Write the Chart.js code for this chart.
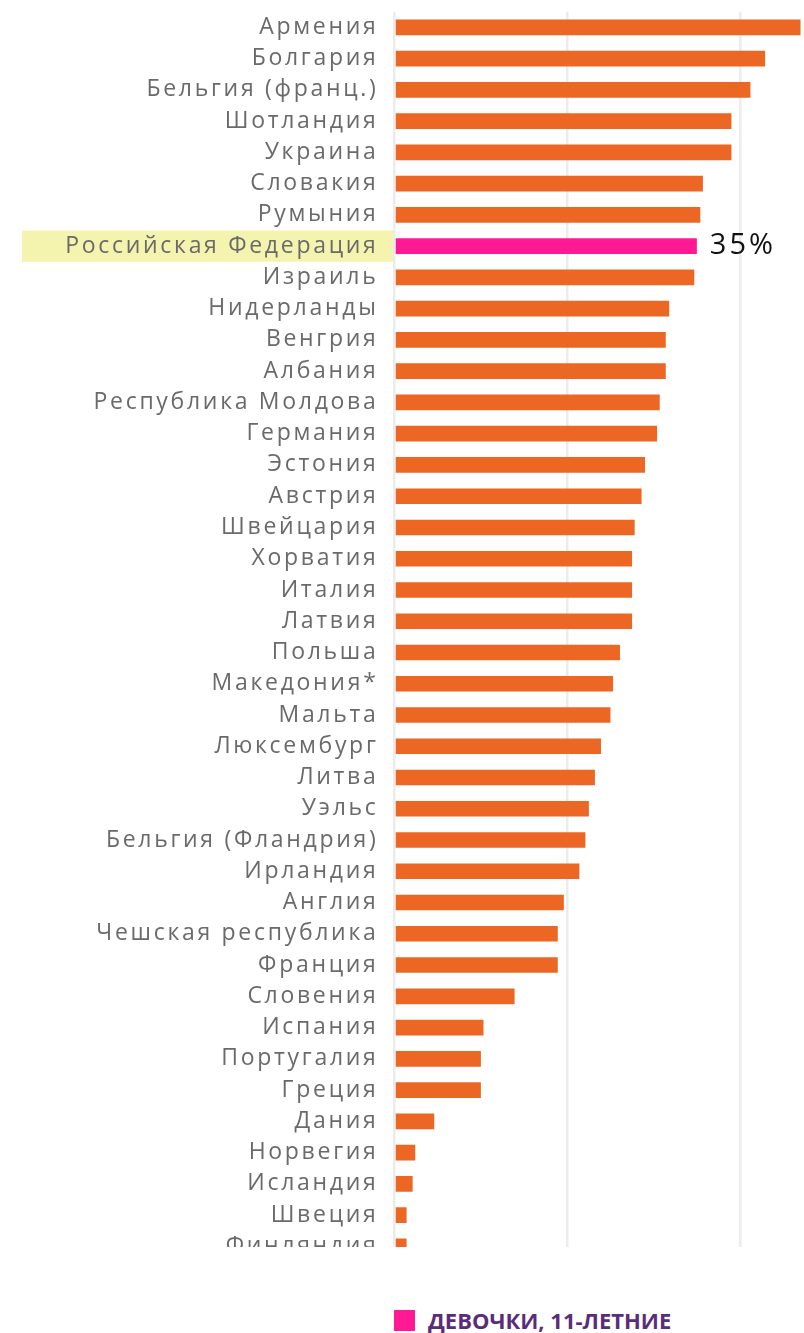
<!DOCTYPE html>
<html lang="ru">
<head>
<meta charset="utf-8">
<script src="https://cdn.jsdelivr.net/npm/chart.js@4.4.1/dist/chart.umd.min.js"></script>
<style>
  body { margin: 0; background: #fff; }
  #wrap { position: relative; width: 804px; height: 1247px; overflow: hidden; }
  #legend { position: absolute; left: 394px; top: 1305px; display: flex; align-items: center;
    font: bold 22px "Open Sans", sans-serif; color: #5a2d7a; }
  #legend span.box { display: inline-block; width: 21px; height: 21px; margin-right: 13px; }
</style>
</head>
<body>
<div id="wrap"><canvas id="myChart" width="804" height="1262"></canvas></div>
<div id="legend"></div>
<script>
const countries = [
  'Армения', 'Болгария', 'Бельгия (франц.)', 'Шотландия', 'Украина', 'Словакия', 'Румыния',
  'Российская Федерация', 'Израиль', 'Нидерланды', 'Венгрия', 'Албания', 'Республика Молдова',
  'Германия', 'Эстония', 'Австрия', 'Швейцария', 'Хорватия', 'Италия', 'Латвия', 'Польша',
  'Македония*', 'Мальта', 'Люксембург', 'Литва', 'Уэльс', 'Бельгия (Фландрия)', 'Ирландия',
  'Англия', 'Чешская республика', 'Франция', 'Словения', 'Испания', 'Португалия', 'Греция',
  'Дания', 'Норвегия', 'Исландия', 'Швеция', 'Финляндия'
];
const girls11 = [
  47, 42.9, 41.2, 39, 39, 35.7, 35.4,
  35, 34.7, 31.8, 31.4, 31.4, 30.7,
  30.4, 29, 28.6, 27.8, 27.5, 27.5, 27.5, 26.1,
  25.3, 25, 23.9, 23.2, 22.5, 22.1, 21.4,
  19.6, 18.9, 18.9, 13.9, 10.3, 10, 10,
  4.6, 2.4, 2.1, 1.4, 1.4
];
const xTicks = [0, 20, 40];
const seriesLabel = 'ДЕВОЧКИ, 11-ЛЕТНИЕ';
const highlight = 'Российская Федерация';

const orange = '#EC6624';
const pink = '#FF1A94';
const hiIndex = countries.indexOf(highlight);

// yellow band behind the highlighted country name, value label after its bar
const highlightPlugin = {
  id: 'highlight',
  beforeLayout(chart) {
    chart.ctx.letterSpacing = '2.7px';
  },
  beforeDraw(chart) {
    const ctx = chart.ctx;
    const y = chart.scales.y;
    const half = (y.getPixelForValue(1) - y.getPixelForValue(0)) / 2;
    const cy = y.getPixelForValue(hiIndex);
    ctx.save();
    ctx.fillStyle = '#F4F4AE';
    ctx.fillRect(22, cy - half, chart.chartArea.left - 22, half * 2);
    ctx.restore();
    ctx.letterSpacing = '2.7px';
  },
  afterDatasetsDraw(chart) {
    const ctx = chart.ctx;
    const bar = chart.getDatasetMeta(0).data[hiIndex];
    ctx.save();
    ctx.letterSpacing = '3px';
    ctx.font = '29px "Open Sans", sans-serif';
    ctx.fillStyle = '#111';
    ctx.textAlign = 'left';
    ctx.textBaseline = 'middle';
    ctx.fillText(Math.round(girls11[hiIndex]) + '%', bar.x + 13, bar.y);
    ctx.restore();
  }
};

const ctx = document.getElementById('myChart').getContext('2d');

new Chart(ctx, {
  type: 'bar',
  data: {
    labels: countries,
    datasets: [{
      label: seriesLabel,
      data: girls11,
      backgroundColor: countries.map(c => c === highlight ? pink : orange),
      barPercentage: 0.5,
      categoryPercentage: 1
    }]
  },
  options: {
    indexAxis: 'y',
    responsive: false,
    animation: false,
    layout: { padding: { top: 11.7, bottom: 0, left: 0, right: 0 } },
    plugins: { legend: { display: false }, tooltip: { enabled: false } },
    scales: {
      x: {
        min: 0,
        max: 47.4,
        afterBuildTicks: scale => { scale.ticks = xTicks.map(v => ({ value: v })); },
        afterFit: scale => { scale.height = 0; scale.paddingLeft = 0; scale.paddingRight = 0; },
        ticks: { display: false },
        grid: { color: '#ECECEC', lineWidth: 2.5, drawTicks: false },
        border: { display: false }
      },
      y: {
        afterFit: scale => { scale.width = 394.5; scale.paddingTop = 0; scale.paddingBottom = 0; },
        grid: { display: false, drawTicks: false },
        border: { display: false },
        ticks: {
          padding: 16,
          color: '#6A6A6A',
          font: { family: '"Open Sans", sans-serif', size: 23 },
          autoSkip: false
        }
      }
    }
  },
  plugins: [highlightPlugin]
});

document.getElementById('legend').innerHTML =
  '<span class="box" style="background:' + pink + '"></span>' + seriesLabel;
</script>
</body>
</html>
